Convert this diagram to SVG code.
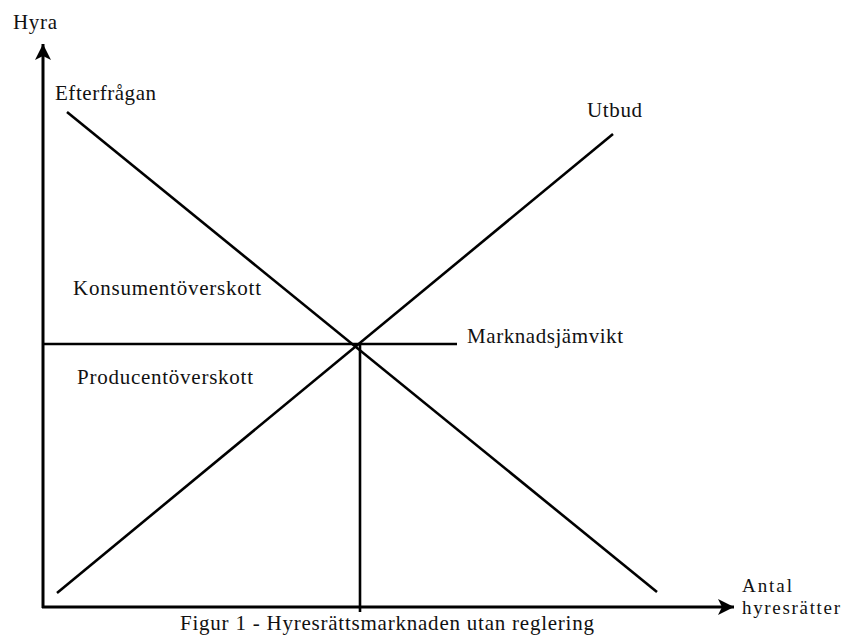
<svg xmlns="http://www.w3.org/2000/svg" width="841" height="635" viewBox="0 0 841 635">
<style>
text{font-family:"Liberation Serif","Times New Roman",serif;font-size:21px;fill:#111}
.sm{font-size:19px}
.ax{stroke:#000;stroke-width:3;fill:none}
.ln{stroke:#000;stroke-width:2.6;fill:none}
</style>
<defs>
<marker id="arr" markerUnits="userSpaceOnUse" markerWidth="18" markerHeight="18" refX="16" refY="8" orient="auto">
<path d="M0,0 L16,8 L0,16 L4,8 Z" fill="#000"/>
</marker>
</defs>
<rect width="841" height="635" fill="#fff"/>
<g id="connectors">
<line class="ax" x1="43" y1="608" x2="43" y2="44" marker-end="url(#arr)"/>
<line class="ax" x1="42" y1="607" x2="734" y2="607" marker-end="url(#arr)"/>
<line class="ln" x1="67" y1="112" x2="657" y2="592"/>
<line class="ln" x1="57" y1="593" x2="613" y2="134"/>
<line class="ln" x1="43" y1="344" x2="457" y2="344"/>
<line class="ln" x1="360" y1="344" x2="360" y2="612"/>
</g>
<g id="hyra"><text x="13" y="29" textLength="44">Hyra</text></g>
<g id="efterfragan"><text x="55" y="100" textLength="101">Efterfrågan</text></g>
<g id="utbud"><text x="587" y="117" textLength="55">Utbud</text></g>
<g id="konsument"><text x="73" y="295" textLength="188">Konsumentöverskott</text></g>
<g id="producent"><text x="77" y="384" textLength="176">Producentöverskott</text></g>
<g id="jamvikt"><text x="467" y="343" textLength="156">Marknadsjämvikt</text></g>
<g id="antal"><text class="sm" x="742" y="592" textLength="50">Antal</text><text class="sm" x="742" y="614" textLength="98">hyresrätter</text></g>
<g id="caption"><text x="180" y="630" textLength="414">Figur 1 - Hyresrättsmarknaden utan reglering</text></g>
</svg>
